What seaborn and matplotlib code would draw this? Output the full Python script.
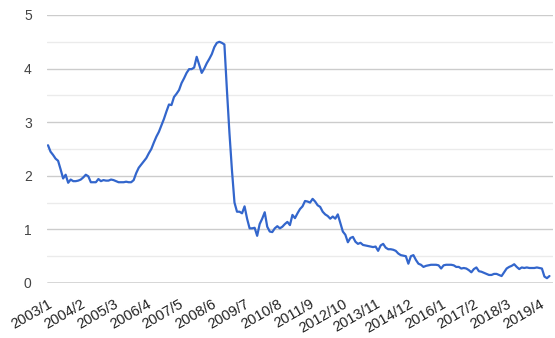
import matplotlib
matplotlib.use("Agg")
import matplotlib.pyplot as plt
import seaborn as sns
import pandas as pd
import numpy as np

months = [f"{p.year}/{p.month}" for p in pd.period_range("2003-01", periods=200, freq="M")]
values = [
    2.57, 2.45, 2.39, 2.32, 2.28, 2.12, 1.95, 2.02, 1.87, 1.93,
    1.90, 1.90, 1.91, 1.93, 1.97, 2.02, 1.99, 1.88, 1.88, 1.88,
    1.94, 1.90, 1.92, 1.91, 1.91, 1.93, 1.92, 1.90, 1.88, 1.88,
    1.88, 1.89, 1.88, 1.88, 1.92, 2.05, 2.15, 2.21, 2.27, 2.33,
    2.42, 2.50, 2.62, 2.73, 2.82, 2.94, 3.06, 3.20, 3.33, 3.32,
    3.47, 3.53, 3.60, 3.73, 3.82, 3.92, 3.99, 3.99, 4.02, 4.22,
    4.07, 3.92, 4.00, 4.10, 4.18, 4.27, 4.40, 4.48, 4.50, 4.48,
    4.45, 3.60, 2.80, 2.10, 1.50, 1.33, 1.33, 1.30, 1.43, 1.20,
    1.02, 1.02, 1.03, 0.88, 1.10, 1.20, 1.32, 1.05, 0.96, 0.95,
    1.02, 1.06, 1.02, 1.05, 1.10, 1.14, 1.08, 1.27, 1.21, 1.30,
    1.38, 1.43, 1.53, 1.52, 1.50, 1.57, 1.52, 1.45, 1.42, 1.33,
    1.28, 1.25, 1.20, 1.24, 1.20, 1.28, 1.12, 0.96, 0.90, 0.76,
    0.84, 0.86, 0.77, 0.73, 0.75, 0.71, 0.70, 0.69, 0.68, 0.67,
    0.68, 0.60, 0.70, 0.73, 0.66, 0.63, 0.63, 0.62, 0.60, 0.55,
    0.52, 0.51, 0.50, 0.36, 0.50, 0.52, 0.43, 0.36, 0.34, 0.30,
    0.32, 0.33, 0.34, 0.34, 0.34, 0.33, 0.27, 0.33, 0.34, 0.34,
    0.34, 0.33, 0.30, 0.30, 0.27, 0.28, 0.27, 0.24, 0.20, 0.26,
    0.29, 0.22, 0.21, 0.19, 0.17, 0.15, 0.15, 0.17, 0.17, 0.15,
    0.13, 0.20, 0.27, 0.30, 0.32, 0.35, 0.30, 0.26, 0.29, 0.28,
    0.29, 0.28, 0.28, 0.28, 0.29, 0.28, 0.27, 0.12, 0.09, 0.13,
]
tick_step = 13
y_ticks = [0, 1, 2, 3, 4, 5]

sns.set_theme(style="white")
plt.rcParams["font.family"] = ["Liberation Sans", "DejaVu Sans"]

df = pd.DataFrame({"idx": np.arange(len(values)), "month": months, "value": values})

fig = plt.figure(figsize=(5.55, 3.38), dpi=100)
ax = fig.add_axes([47 / 555, 1 - 283 / 338, (553 - 47) / 555, (283 - 15) / 338])

# gridlines
for v in np.arange(0.5, 5.01, 0.5):
    major = abs(v - round(v)) < 1e-9
    ax.axhline(v, color="#cccccc" if major else "#ebebeb", lw=1.0, zorder=0)
ax.axhline(0, color="#333333", lw=1.0, zorder=1)

sns.lineplot(data=df, x="idx", y="value", ax=ax, color="#3366cc", linewidth=1.6, zorder=3)

ax.set_xlim(-0.4, len(values) + 0.4)
ax.set_ylim(0, 5)
ax.set_yticks(y_ticks)
ax.set_yticklabels([str(t) for t in y_ticks], fontsize=10, color="#444444")
tick_idx = list(range(0, len(values), tick_step))
ax.set_xticks(tick_idx)
ax.set_xticklabels([months[i] for i in tick_idx], fontsize=10.5, color="#222222",
                   rotation=30, ha="right", va="top", rotation_mode="anchor")
ax.tick_params(axis="both", length=0)
ax.tick_params(axis="y", pad=11)
ax.tick_params(axis="x", pad=10)
ax.set_xlabel("")
ax.set_ylabel("")
for s in ax.spines.values():
    s.set_visible(False)

fig.savefig("out.png", dpi=100)
